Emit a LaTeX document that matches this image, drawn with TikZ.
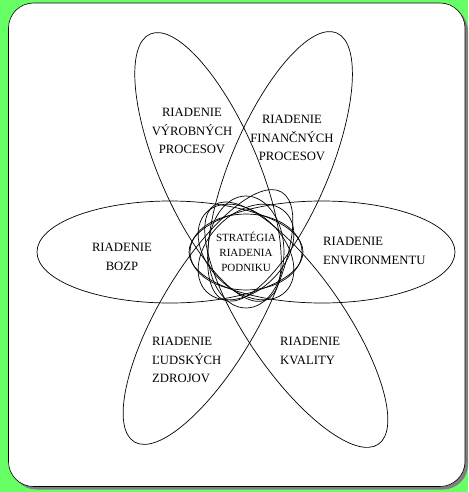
\documentclass[tikz,border=0pt]{standalone}
\usepackage{fontspec}
\setmainfont{Liberation Serif}
\definecolor{bggreen}{RGB}{102,255,102}
\definecolor{shadowgray}{RGB}{128,128,128}
\tikzset{
  petal/.style={draw=black, line width=0.7pt},
  lbl/.style={inner sep=0pt, font=\fontsize{12.7}{18.5}\selectfont},
  hublbl/.style={inner sep=0pt, font=\fontsize{11}{15}\selectfont, align=center},
}
\begin{document}
\begin{tikzpicture}[x=1pt, y=-1pt]
\useasboundingbox (0,0) rectangle (468,492);
\fill[bggreen] (0,0) rectangle (468,492);
% frame with shadow
\fill[shadowgray, rounded corners=25pt] (11.5,6) rectangle (468,489.5);
\filldraw[fill=white, draw=black, line width=0.6pt, rounded corners=25pt] (8.5,3) rectangle (465,486.5);
% hub
\coordinate (hub) at (246,252);
% big petals
\draw[petal] (170,252) ellipse [x radius=133pt, y radius=51pt];
\draw[petal] (322,252) ellipse [x radius=133pt, y radius=51pt];
\draw[petal, rotate around={113.5:(208,167)}] (208,167) ellipse [x radius=145pt, y radius=49pt];
\draw[petal, rotate around={67:(280,166.4)}] (280,166.4) ellipse [x radius=145pt, y radius=49pt];
\draw[petal, rotate around={59.5:(208,317)}] (208,317) ellipse [x radius=145pt, y radius=49pt];
\draw[petal, rotate around={-55.5:(296.3,324.7)}] (296.3,324.7) ellipse [x radius=145pt, y radius=49pt];
% small hub ellipses
\foreach \ang in {0,45,90,135}{
  \draw[petal, rotate around={\ang:(hub)}] (hub) ellipse [x radius=56pt, y radius=38pt];
}
% labels
\node[lbl, align=center] (vyr) at (192,131) {RIADENIE\\VÝROBNÝCH\\PROCESOV};
\node[lbl, align=center] (fin) at (292,138) {RIADENIE\\FINANČNÝCH\\PROCESOV};
\node[lbl, align=center] (bozp) at (122,257) {RIADENIE\\BOZP};
\node[lbl, align=left, anchor=west] (env) at (323,251) {RIADENIE\\ENVIRONMENTU};
\node[lbl, align=left, anchor=west] (ludia) at (152,360) {RIADENIE\\ĽUDSKÝCH\\ZDROJOV};
\node[lbl, align=left, anchor=west] (kval) at (280,351) {RIADENIE\\KVALITY};
\node[hublbl] (strat) at (hub) {STRATÉGIA\\RIADENIA\\PODNIKU};
\end{tikzpicture}
\end{document}
